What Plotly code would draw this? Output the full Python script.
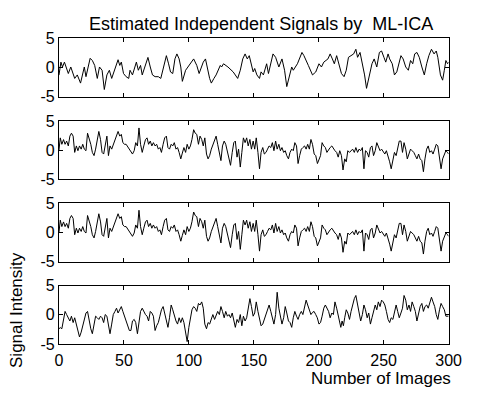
import plotly.graph_objects as go

# ---------------- data ----------------
x_ticks = [0, 50, 100, 150, 200, 250, 300]
y_ticks = [-5, 0, 5]
y_tick_labels = ["-5", "0", "5"]

sig1_x = [0, 1.5, 2.7, 4.2, 7.2, 9.1, 12.1, 14.1, 16.6, 18.3,
          19.5, 20.8, 22.5, 24.0, 25.7, 27.5, 29.5, 31.2, 33.2, 34.9,
          36.9, 38.8, 40.6, 43.1, 45.5, 46.8, 48.0, 49.7, 51.7, 53.7,
          54.7, 56.6, 59.6, 61.1, 62.8, 64.1, 66.6, 68.5, 70.3, 72.0,
          74.0, 76.5, 78.4, 80.9, 82.7, 84.4, 85.9, 87.6, 89.3, 90.8,
          92.5, 93.8, 95.0, 97.5, 101.2, 103.7, 106.1, 107.9, 111.1, 112.8,
          116.0, 117.3, 119.3, 121.0, 124.2, 125.2, 126.7, 130.1, 134.1, 137.6,
          139.6, 141.5, 143.3, 145.0, 146.5, 148.2, 149.5, 150.7, 152.4, 154.4,
          155.6, 157.4, 159.9, 161.3, 164.8, 166.8, 169.3, 171.7, 173.7, 175.4,
          177.9, 179.2, 180.4, 183.6, 187.1, 188.6, 192.0, 195.2, 197.7, 200.2,
          202.1, 203.9, 207.1, 208.8, 210.5, 212.0, 213.8, 215.5, 217.5, 219.5,
          221.2, 222.9, 226.9, 228.6, 229.9, 231.8, 233.6, 235.3, 236.8, 239.3,
          241.0, 242.7, 244.7, 246.7, 248.4, 250.2, 251.6, 253.4, 254.6, 256.6,
          258.3, 260.1, 261.5, 263.3, 265.0, 267.0, 269.0, 270.7, 272.4, 273.9,
          275.6, 277.4, 279.4, 281.3, 283.1, 284.8, 286.8, 288.8, 290.5, 291.7,
          293.7, 295.4, 296.7, 297.9, 299.2, 300]
sig1_y = [-1.33, 0.89, 0.06, 0.89, -1.06, 0.06, -1.9, -1.3, -2.7, -1.3,
          0.06, -1.6, 0.06, 1.55, 1.17, 0.33, -1.9, 0.06, -0.5, -3.8,
          -1.3, -0.5, -1.9, -0.2, 1.3, 0.33, 0.9, -1.06, -1.6, -1.9,
          -0.5, -1.3, 0.9, -0.5, 0.33, -1.3, 0.6, 1.7, 0.06, -1.3,
          -1.6, -1.6, -1.9, 0.6, 2.0, 0.6, -0.8, -1.06, 1.45, 2.3,
          1.45, 0.06, -2.4, -0.5, 0.61, 1.44, 0.33, -1.06, 0.89, 1.44,
          -1.9, -2.7, -1.9, -1.3, 0.33, 0.06, 0.61, 0.06, -0.78, -1.9,
          -0.5, 1.44, 2.3, 1.44, 2.0, 0.06, -0.78, -0.2, -1.3, -1.9,
          -0.78, -1.3, 0.61, -1.06, 2.3, 1.72, 0.06, 1.44, -0.5, -3.3,
          -1.06, 0.06, -0.5, 0.61, 2.55, 2.0, 0.33, -1.3, -0.8, 0.61,
          0.06, 0.89, 1.44, 2.3, 1.44, 0.61, 2.0, 0.61, -1.06, -1.6,
          -0.5, 1.72, 2.3, 3.1, 1.72, 2.55, 0.61, -1.3, -3.6, -1.06,
          0.61, 1.44, 0.06, 2.55, 2.8, 1.72, 0.89, 2.3, 1.44, 0.61,
          -1.3, -0.78, 0.61, 2.0, 1.44, 0.06, -0.5, 1.17, 0.61, 2.3,
          2.55, 1.72, 0.06, -1.3, 0.61, 2.0, 3.1, 2.3, 2.8, 1.72,
          -1.3, -2.2, -0.5, 1.17, 0.61, 0.89]

sig2_x = [0, 1.0, 2.2, 3.5, 4.7, 5.9, 7.2, 8.4, 9.6, 10.9,
          12.1, 13.4, 14.6, 15.8, 17.1, 18.3, 19.5, 20.8, 22.0, 23.3,
          24.5, 25.7, 27.0, 28.2, 29.5, 30.7, 32.0, 33.2, 34.4, 35.6,
          36.9, 38.1, 39.3, 40.6, 41.8, 43.1, 44.3, 45.5, 46.8, 48.0,
          49.2, 50.5, 51.7, 54.2, 56.6, 57.9, 59.1, 60.4, 61.6, 62.8,
          64.1, 65.3, 66.6, 67.8, 69.0, 70.3, 71.5, 72.7, 74.0, 75.2,
          76.5, 77.7, 78.9, 80.2, 81.4, 82.7, 83.9, 85.1, 86.4, 87.6,
          88.8, 90.1, 91.3, 92.5, 93.8, 95.0, 96.2, 97.5, 98.7, 100.0,
          101.2, 102.4, 103.7, 104.9, 106.1, 107.4, 108.6, 109.9, 111.1, 112.3,
          113.6, 114.8, 116.0, 117.3, 118.5, 119.8, 121.0, 122.2, 123.5, 124.7,
          125.9, 127.2, 128.4, 129.7, 130.9, 132.1, 133.4, 134.6, 135.8, 137.1,
          138.3, 139.6, 140.8, 142.0, 143.3, 144.5, 145.7, 147.0, 148.2, 149.5,
          150.7, 151.9, 153.2, 154.4, 155.6, 156.9, 158.1, 159.4, 160.6, 161.8,
          163.1, 164.3, 165.5, 166.8, 168.0, 169.3, 170.5, 171.7, 173.0, 174.2,
          175.4, 176.7, 177.9, 179.2, 180.4, 181.6, 182.9, 184.1, 185.3, 186.6,
          187.8, 189.1, 190.3, 191.5, 192.8, 194.0, 195.2, 196.5, 197.7, 199.0,
          201.4, 202.6, 203.9, 205.1, 206.3, 207.6, 208.8, 210.1, 211.3, 212.5,
          213.8, 215.0, 216.2, 217.5, 218.7, 220.0, 221.2, 222.4, 223.7, 224.9,
          226.1, 227.4, 228.6, 229.9, 231.1, 232.3, 233.6, 234.8, 236.0, 237.3,
          238.5, 239.8, 241.0, 242.2, 243.5, 244.7, 245.9, 247.2, 248.4, 249.7,
          250.9, 252.1, 253.4, 254.6, 255.8, 257.1, 258.3, 259.6, 260.8, 262.0,
          263.3, 264.5, 265.7, 267.0, 268.2, 269.5, 270.7, 271.9, 273.2, 274.4,
          275.6, 276.9, 278.1, 279.4, 280.6, 281.8, 283.1, 284.3, 285.5, 286.8,
          288.0, 289.3, 290.5, 291.7, 293.0, 294.2, 295.4, 296.7, 297.9, 299.2,
          300.0]
sig2_y = [0, 2.1, 1.0, 1.8, 1.0, 1.55, 0.72, 2.4, 2.9, 2.4,
          -0.39, 0.72, -0.1, 0.72, 0.17, 1.0, 0.17, -0.1, 2.9, 2.1,
          1.0, -0.39, -0.94, 0.17, 2.1, 3.2, 1.8, -0.39, -0.67, 1.0,
          2.4, -0.94, 0.72, 0.17, 1.0, 1.8, 2.4, 3.2, 2.4, 2.7,
          1.28, 1.0, 1.0, 0.17, -0.67, -0.1, 1.28, 0.72, 3.8, 1.0,
          -0.39, 0.72, 1.8, 2.1, 1.0, 1.55, 0.72, 1.28, 0.72, 1.0,
          0.17, 0.44, -0.39, 1.0, 2.1, 2.4, 0.44, 0.17, 1.0, 0.72,
          1.28, 0.17, 0.44, -0.39, -1.5, -0.5, 0.44, -0.39, 1.0, 0.17,
          0.72, 1.83, 3.5, 2.9, 2.7, 1.0, 2.4, 1.83, 0.72, 2.1,
          -0.67, -1.5, -0.94, 0.17, 1.0, 1.55, 2.4, 1.0, -0.39, -1.8,
          0.72, 1.55, 1.0, -0.1, -1.5, -2.6, -0.39, 1.28, 1.55, -1.2,
          0.17, -2.9, -0.39, 2.1, 1.28, 2.1, 0.72, 1.83, 0.17, 1.55,
          0.17, 2.1, -0.39, -3.2, -0.39, 0.44, -0.67, -0.39, 0.17, 0.72,
          0.44, 1.28, -0.1, 1.55, 0.17, 1.0, -0.1, 0.44, -0.39, -0.1,
          -0.94, -1.5, -0.39, 0.17, -0.1, 1.28, 0.72, -2.3, -0.94, 0.17,
          0.44, 0.72, 0.17, 1.0, 0.17, 1.83, 1.0, -0.67, -0.94, -2.3,
          -0.94, 1.28, 0.72, 0.44, -0.39, 0.17, 0.44, 0.72, 0.17, -0.1,
          -0.39, -1.2, -0.1, -0.94, -3.4, -1.5, -2.0, -0.1, -0.39, -0.1,
          0.17, -0.39, 0.44, -0.39, 0.17, -0.1, 0.44, -3.2, -0.1, -0.39,
          -1.2, 0.44, 0.72, -0.94, -0.1, 1.28, 0.44, -0.1, 0.17, -0.39,
          -0.67, -0.1, -0.94, -2.0, -3.2, -1.5, -0.39, -0.94, 0.17, 1.55,
          1.55, -0.39, 1.28, 0.17, -1.5, -0.67, 0.17, -0.1, -0.39, -0.94,
          -1.5, -0.67, -1.5, -1.8, -3.7, -1.5, 0.17, 0.72, -0.39, -0.1,
          -0.67, 0.17, 1.0, 0.72, -1.2, -3.2, -1.5, -0.67, -0.1, -0.39,
          -0.67]

# panel 3 is the same signal as panel 2 in the reference
sig3_x = list(sig2_x)
sig3_y = list(sig2_y)

sig4_x = [0, 1.0, 2.2, 3.5, 4.7, 5.9, 7.2, 8.4, 9.6, 10.9,
          12.1, 13.4, 14.6, 15.8, 17.1, 18.3, 19.5, 20.8, 22.0, 23.3,
          24.5, 25.7, 27.0, 28.2, 29.5, 30.7, 32.0, 33.2, 34.4, 35.6,
          36.9, 38.1, 39.3, 40.6, 41.8, 43.1, 44.3, 45.5, 46.8, 48.0,
          49.2, 50.5, 51.7, 53.0, 54.2, 55.4, 56.6, 57.9, 59.1, 60.4,
          61.6, 62.8, 64.1, 65.3, 66.6, 67.8, 69.0, 70.3, 71.5, 72.7,
          74.0, 75.2, 76.5, 77.7, 78.9, 80.2, 81.4, 82.7, 83.9, 85.1,
          86.4, 87.6, 88.8, 90.1, 91.3, 92.5, 93.8, 95.0, 96.2, 97.5,
          98.7, 100.0, 101.2, 102.4, 103.7, 104.9, 106.1, 107.4, 108.6, 109.9,
          111.1, 112.3, 113.6, 114.8, 116.0, 117.3, 118.5, 119.8, 121.0, 122.2,
          123.5, 124.7, 125.9, 127.2, 128.4, 129.7, 130.9, 132.1, 133.4, 134.6,
          135.8, 137.1, 138.3, 139.6, 140.8, 142.0, 143.3, 144.5, 145.7, 147.0,
          148.2, 149.5, 150.7, 151.9, 153.2, 154.4, 155.6, 156.9, 158.1, 159.4,
          160.6, 161.8, 163.1, 164.3, 165.5, 166.8, 168.0, 169.3, 170.5, 171.7,
          173.0, 174.2, 175.4, 176.7, 177.9, 179.2, 180.4, 181.6, 182.9, 184.1,
          185.3, 186.6, 187.8, 189.1, 190.3, 191.5, 192.8, 194.0, 195.2, 196.4,
          197.7, 198.9, 200.2, 201.4, 202.6, 203.9, 205.1, 206.3, 207.6, 208.8,
          210.1, 211.3, 212.5, 213.8, 215.0, 216.2, 217.0, 218.0, 219.0, 220.0,
          221.2, 222.4, 223.7, 224.9, 226.1, 227.4, 228.6, 229.9, 231.1, 232.3,
          233.6, 234.8, 236.0, 237.3, 238.5, 239.8, 241.0, 242.2, 243.5, 244.7,
          245.9, 247.2, 248.4, 249.7, 250.9, 252.1, 253.4, 254.6, 255.8, 257.1,
          258.3, 259.6, 260.8, 262.0, 263.3, 264.5, 265.7, 267.0, 268.2, 269.5,
          270.7, 271.9, 273.2, 274.4, 275.6, 276.9, 278.1, 279.4, 280.6, 281.8,
          283.1, 284.3, 285.5, 286.8, 288.0, 289.3, 290.5, 291.7, 293.0, 294.2,
          295.4, 296.7, 297.9, 300.0]
sig4_y = [-2.4, -2.2, -2.4, -1.07, 0.57, 0.03, -0.52, -1.07, -0.25, -1.34,
          -0.52, -1.6, -2.7, -3.8, -2.98, -1.89, -0.52, 0.3, 0.57, -1.07,
          -2.4, -3.25, -1.89, -0.25, -0.52, -0.8, -0.25, -0.52, -1.34, 0.03,
          -0.25, -1.89, -3.25, -1.6, 0.03, 0.57, 1.12, 0.3, 0.85, 1.4,
          0.57, -0.25, -1.07, -2.16, -2.7, -2.7, -1.07, -0.8, -1.34, -3.25,
          -1.07, 0.57, 1.12, 0.57, 0.03, -0.25, -1.07, 0.57, 0.3, -0.25,
          -2.7, -1.89, -1.34, -0.25, 0.85, 1.4, 0.3, -1.34, -2.16, -0.52,
          1.67, 0.85, -0.25, -1.07, -1.6, -0.52, -1.34, -0.52, -1.34, -3.25,
          -4.6, -2.16, -0.52, 0.85, 1.4, 1.12, 0.57, 1.94, 1.67, 2.2,
          1.12, -1.6, -2.4, -1.34, -1.6, -0.52, 0.03, -0.8, -0.25, 0.57,
          0.03, 1.4, 0.57, -0.52, 0.57, -0.25, 0.03, -0.52, 0.3, -1.07,
          -2.16, -0.8, -1.34, 0.03, -1.89, -0.25, -1.07, -0.52, 0.85, 2.76,
          1.4, -0.25, 0.3, 2.2, 0.57, -0.8, -1.89, -1.6, -0.8, 0.03,
          0.57, 1.67, 0.57, -0.52, -1.6, 0.03, 3.85, 1.12, -0.52, -1.6,
          -0.52, 1.4, 0.3, -1.07, -1.34, -2.16, -0.52, 0.57, -0.25, -0.8,
          0.03, 0.57, 0.03, 1.12, 2.5, 1.67, 0.85, 0.03, 0.4, 0.57,
          0.03, -0.52, -1.6, -1.34, -0.25, 1.12, 1.67, 1.12, 0.57, -0.52,
          0.3, 0.03, 2.2, 1.12, -0.25, -1.6, -2.16, -1.07, -1.89, -0.52,
          0.85, 0.3, -0.8, 0.57, 1.67, 2.76, 3.3, 1.67, -0.25, -1.07,
          0.03, 1.67, 0.85, -0.52, 0.3, -1.6, -0.52, 0.57, 1.67, 0.85,
          2.2, 1.4, 2.5, 2.2, 1.67, 0.57, -0.8, -1.34, -0.52, -0.8,
          0.57, 1.67, 0.57, -0.52, 0.3, 1.12, 3.3, 2.5, 0.85, 1.67,
          0.57, 2.2, 1.4, 0.57, -1.07, 0.3, 1.4, 1.94, 0.57, 1.4,
          1.67, 1.12, 2.2, 3.0, 2.2, 1.4, 0.03, -0.8, 0.85, 1.94,
          1.4, 0.85, -0.25, -0.25]

title_text = "Estimated Independent Signals by  ML-ICA"
xlabel_text = "Number of Images"
ylabel_text = "Signal Intensity"

# ---------------- layout helpers ----------------
W, H = 478, 396
FONT = "Liberation Sans, Arial, Helvetica, sans-serif"
PLOT_LEFT, PLOT_RIGHT = 57, 461
PANEL_TOPS = [31.5, 118, 204, 290]
PANEL_H = 61


def px_x(p):
    return p / W


def px_y(p):
    return 1 - p / H


series = [(sig1_x, sig1_y), (sig2_x, sig2_y), (sig3_x, sig3_y), (sig4_x, sig4_y)]

fig = go.Figure()
layout = dict(
    width=W, height=H,
    margin=dict(l=0, r=0, t=0, b=0),
    paper_bgcolor="white", plot_bgcolor="white",
    showlegend=False,
    font=dict(family=FONT, size=16, color="black"),
)

for i, (xs, ys) in enumerate(series, start=1):
    sfx = "" if i == 1 else str(i)
    fig.add_trace(go.Scatter(x=xs, y=ys, mode="lines",
                             line=dict(color="black", width=1),
                             xaxis="x" + sfx, yaxis="y" + sfx,
                             hoverinfo="skip"))
    top = PANEL_TOPS[i - 1]
    layout["xaxis" + sfx] = dict(
        domain=[px_x(PLOT_LEFT), px_x(PLOT_RIGHT)],
        anchor="y" + sfx, range=[0, 300],
        tickmode="array", tickvals=x_ticks,
        ticktext=[str(v) for v in x_ticks],
        showticklabels=(i == 4),
        ticks="inside", ticklen=4, tickcolor="black",
        ticklabelstandoff=2,
        showline=True, linecolor="black", linewidth=1, mirror="ticks",
        showgrid=False, zeroline=False,
        tickfont=dict(family=FONT, size=16, color="black"),
    )
    layout["yaxis" + sfx] = dict(
        domain=[px_y(top + PANEL_H), px_y(top)],
        anchor="x" + sfx, range=[-5, 5],
        tickmode="array", tickvals=y_ticks, ticktext=y_tick_labels,
        ticks="inside", ticklen=4, tickcolor="black",
        showline=True, linecolor="black", linewidth=1, mirror="ticks",
        showgrid=False, zeroline=False,
        tickfont=dict(family=FONT, size=16, color="black"),
    )

layout["annotations"] = [
    dict(text=title_text, xref="paper", yref="paper",
         x=px_x(266), y=px_y(17),
         xanchor="center", yanchor="middle", showarrow=False,
         font=dict(family=FONT, size=18, color="black")),
    dict(text=xlabel_text, xref="paper", yref="paper",
         x=px_x(466), y=px_y(384), yanchor="top",
         xanchor="right", showarrow=False,
         font=dict(family=FONT, size=17, color="black")),
    dict(text=ylabel_text, xref="paper", yref="paper",
         x=px_x(13), y=px_y(316), textangle=-90,
         xanchor="center", yanchor="middle", showarrow=False,
         font=dict(family=FONT, size=17, color="black")),
]
# x-label box starts just under the tick labels (top anchored at ~376 px)
layout["annotations"][1]["y"] = px_y(375)

fig.update_layout(**layout)
fig.write_html("out.html")
